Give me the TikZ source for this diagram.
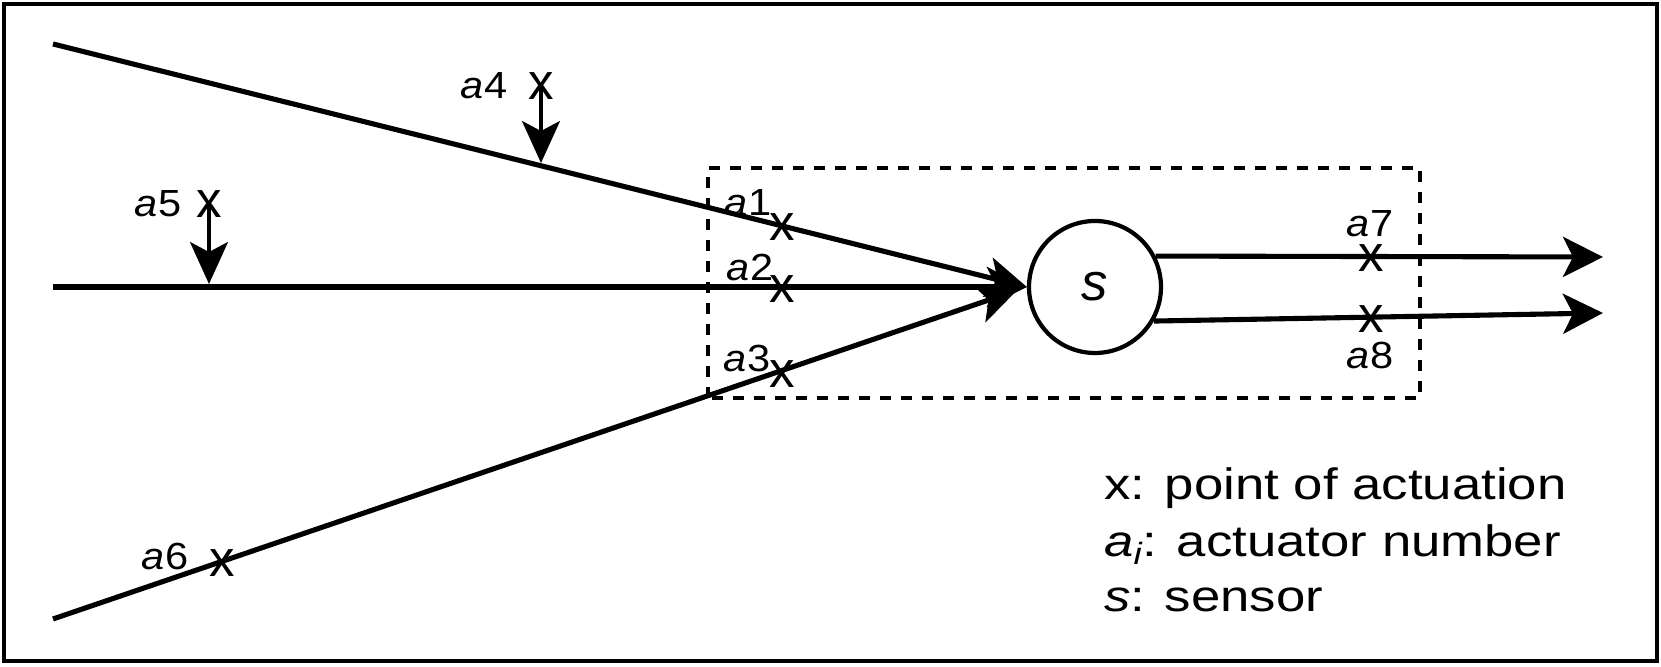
\documentclass[tikz,border=0pt]{standalone}
\usepackage{fontspec}
\setmainfont{Liberation Sans}
\newfontfamily\legendfont{Liberation Sans}[FakeStretch=1.2]
\newfontfamily\labelfont{Liberation Sans}[FakeStretch=1.1]
\usetikzlibrary{arrows.meta,positioning}

\begin{document}
\begin{tikzpicture}[
  frame/.style={draw, line width=2.8pt},
  zone/.style={draw, line width=2.4pt, dash pattern=on 0.22cm off 0.2cm},
  sensor/.style={circle, draw, line width=2.4pt, minimum size=2.64cm,
    inner sep=0pt, font=\fontsize{30}{30}\selectfont\itshape},
  flow/.style={line width=2.9pt,
    -{Stealth[length=0.8cm, width=0.8cm, inset=0.2cm]}},
  push/.style={line width=1.8pt,
    -{Stealth[length=0.84cm, width=0.76cm, inset=0.2cm]}},
  xmark/.style={inner sep=0pt, font=\fontsize{29}{29}\selectfont},
  lbl/.style={inner sep=0pt, font=\labelfont\fontsize{21.5}{21.5}\selectfont},
  legend/.style={inner sep=0pt, anchor=base west,
    font=\legendfont\fontsize{25}{25}\selectfont}
]
\useasboundingbox (0,0) rectangle (33.22,13.34);
\draw[frame] (0.08,0.12) rectangle (33.14,13.26);

% zone round the sensor
\draw[zone] (14.16,5.38) rectangle (28.40,9.98);

\node[sensor] (s) at (21.90,7.60) {s};

\coordinate (in1) at (1.06,12.46);
\coordinate (in2) at (1.06,7.60);
\coordinate (in3) at (1.06,0.96);
\coordinate (out7) at (32.06,8.20);
\coordinate (out8) at (32.06,7.08);
\coordinate (hit4) at (10.82,10.08);
\coordinate (hit5) at (4.18,7.66);

% points of actuation
\node[xmark] (m1) at (15.64,8.80) {x};
\node[xmark] (m2) at (15.64,7.56) {x};
\node[xmark] (m3) at (15.64,5.86) {x};
\node[xmark] (m4) at (10.82,11.62) {x};
\node[xmark] (m5) at (4.18,9.26) {x};
\node[xmark] (m6) at (4.44,2.08) {x};
\node[xmark] (m7) at (27.42,8.18) {x};
\node[xmark] (m8) at (27.42,6.96) {x};

\node[lbl] (a1) at (14.96,9.28) {{\itshape a}1};
\node[lbl] (a2) at (15.00,7.98) {{\itshape a}2};
\node[lbl] (a3) at (14.94,6.16) {{\itshape a}3};
\node[lbl] (a4) at (9.68,11.62) {{\itshape a}4};
\node[lbl] (a5) at (3.16,9.26) {{\itshape a}5};
\node[lbl] (a6) at (3.30,2.22) {{\itshape a}6};
\node[lbl] (a7) at (27.40,8.86) {{\itshape a}7};
\node[lbl] (a8) at (27.40,6.22) {{\itshape a}8};

\draw[flow] (in1) -- (s.west);
\draw[flow] (in2) -- (s.west);
\draw[flow, shorten >=6pt] (in3) -- (s.west);
\draw[flow] (s.27) -- (out7);
\draw[flow] (s.-30) -- (out8);
\draw[push] (m4.center) -- (hit4);
\draw[push] (m5.center) -- (hit5);

% key
\node[legend] (key1) at (22.08,3.34) {x: point of actuation};
\node[legend] (key2) at (22.08,2.20) {{\itshape a}\textsubscript{\itshape i}: actuator number};
\node[legend] (key3) at (22.08,1.10) {{\itshape s}: sensor};
\end{tikzpicture}
\end{document}
